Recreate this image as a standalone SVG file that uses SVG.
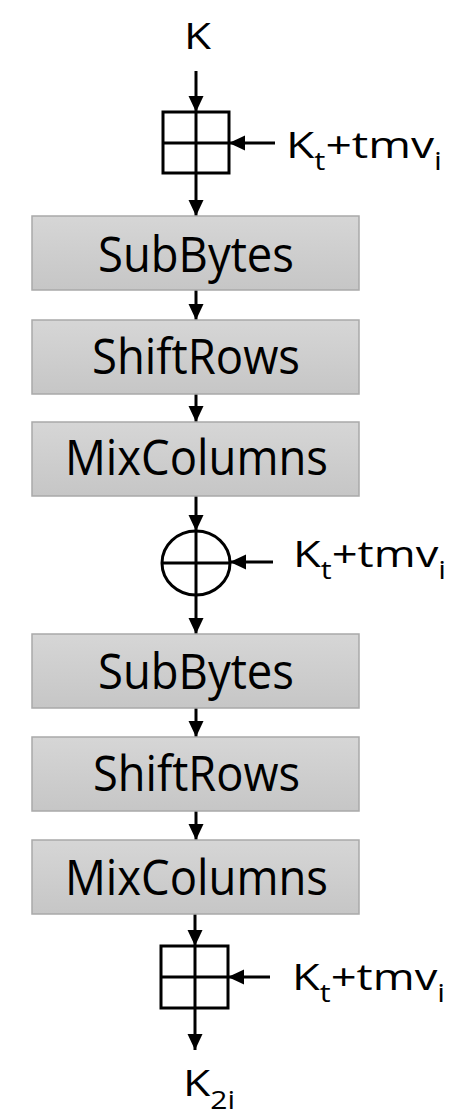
<svg xmlns="http://www.w3.org/2000/svg" width="451" height="1115" viewBox="0 0 451 1115">
<style>
.box{fill:url(#g);stroke:#a9a9a9;stroke-width:1.5}
.bt{font-family:"Open Sans","Liberation Sans",sans-serif;font-size:50px;fill:#000}
.lb{font-family:"Open Sans","Liberation Sans",sans-serif;font-size:37px;fill:#000}
.ln{stroke:#000;stroke-width:3;fill:none}
.ar{stroke:#000;stroke-width:3;fill:none;marker-end:url(#ah)}
</style>
<defs>
<linearGradient id="g" x1="0" y1="0" x2="0" y2="1">
<stop offset="0" stop-color="#d6d6d6"/>
<stop offset="1" stop-color="#c6c6c6"/>
</linearGradient>
<marker id="ah" markerUnits="userSpaceOnUse" markerWidth="17" markerHeight="16" refX="16" refY="7.5" orient="auto">
<path d="M0,0 L16,7.5 L0,15 z" fill="#000"/>
</marker>
</defs>
<rect width="451" height="1115" fill="#fff"/>
<g id="connectors">
<line class="ar" x1="196" y1="71" x2="196" y2="112"/>
<line class="ar" x1="196" y1="173" x2="196" y2="216"/>
<line class="ar" x1="275" y1="143" x2="229" y2="143"/>
<line class="ar" x1="196" y1="290" x2="196" y2="320"/>
<line class="ar" x1="196" y1="394" x2="196" y2="422"/>
<line class="ar" x1="196" y1="496" x2="196" y2="531"/>
<line class="ar" x1="273" y1="562" x2="230" y2="562"/>
<line class="ar" x1="196" y1="595" x2="196" y2="634"/>
<line class="ar" x1="196" y1="708" x2="196" y2="737"/>
<line class="ar" x1="196" y1="811" x2="196" y2="840"/>
<line class="ar" x1="195" y1="914" x2="195" y2="946"/>
<line class="ar" x1="270" y1="977" x2="228" y2="977"/>
<line class="ar" x1="195" y1="1008" x2="195" y2="1050"/>
</g>
<g id="k-in">
<text class="lb" x="184" y="49" textLength="27" lengthAdjust="spacingAndGlyphs">K</text>
</g>
<g id="add1">
<rect class="ln" x="163" y="112" width="66" height="61"/>
<line class="ln" x1="196" y1="112" x2="196" y2="173"/>
<line class="ln" x1="163" y1="143" x2="229" y2="143"/>
</g>
<g id="label1">
<text class="lb" x="286" y="158" textLength="156" lengthAdjust="spacingAndGlyphs">K<tspan font-size="25" dy="12">t</tspan><tspan dy="-12">+tmv</tspan><tspan font-size="25" dy="12">i</tspan></text>
</g>
<g id="subbytes1">
<rect class="box" x="32" y="216" width="327" height="74"/>
<text class="bt" x="98" y="272" textLength="196" lengthAdjust="spacingAndGlyphs">SubBytes</text>
</g>
<g id="shiftrows1">
<rect class="box" x="32" y="320" width="327" height="74"/>
<text class="bt" x="92" y="374" textLength="208" lengthAdjust="spacingAndGlyphs">ShiftRows</text>
</g>
<g id="mixcolumns1">
<rect class="box" x="32" y="422" width="327" height="74"/>
<text class="bt" x="65" y="475" textLength="263" lengthAdjust="spacingAndGlyphs">MixColumns</text>
</g>
<g id="xor">
<ellipse class="ln" cx="196" cy="563" rx="34" ry="32"/>
<line class="ln" x1="196" y1="531" x2="196" y2="595"/>
<line class="ln" x1="162" y1="563" x2="230" y2="563"/>
</g>
<g id="label2">
<text class="lb" x="293" y="567" textLength="153" lengthAdjust="spacingAndGlyphs">K<tspan font-size="25" dy="12">t</tspan><tspan dy="-12">+tmv</tspan><tspan font-size="25" dy="12">i</tspan></text>
</g>
<g id="subbytes2">
<rect class="box" x="32" y="634" width="327" height="74"/>
<text class="bt" x="98" y="689" textLength="196" lengthAdjust="spacingAndGlyphs">SubBytes</text>
</g>
<g id="shiftrows2">
<rect class="box" x="32" y="737" width="327" height="74"/>
<text class="bt" x="93" y="791" textLength="207" lengthAdjust="spacingAndGlyphs">ShiftRows</text>
</g>
<g id="mixcolumns2">
<rect class="box" x="32" y="840" width="327" height="74"/>
<text class="bt" x="65" y="895" textLength="263" lengthAdjust="spacingAndGlyphs">MixColumns</text>
</g>
<g id="add2">
<rect class="ln" x="161" y="946" width="67" height="62"/>
<line class="ln" x1="195" y1="946" x2="195" y2="1008"/>
<line class="ln" x1="161" y1="977" x2="228" y2="977"/>
</g>
<g id="label3">
<text class="lb" x="292" y="990" textLength="153" lengthAdjust="spacingAndGlyphs">K<tspan font-size="25" dy="12">t</tspan><tspan dy="-12">+tmv</tspan><tspan font-size="25" dy="12">i</tspan></text>
</g>
<g id="k-out">
<text class="lb" x="183" y="1096" textLength="52" lengthAdjust="spacingAndGlyphs">K<tspan font-size="25" dy="13">2i</tspan></text>
</g>
</svg>
